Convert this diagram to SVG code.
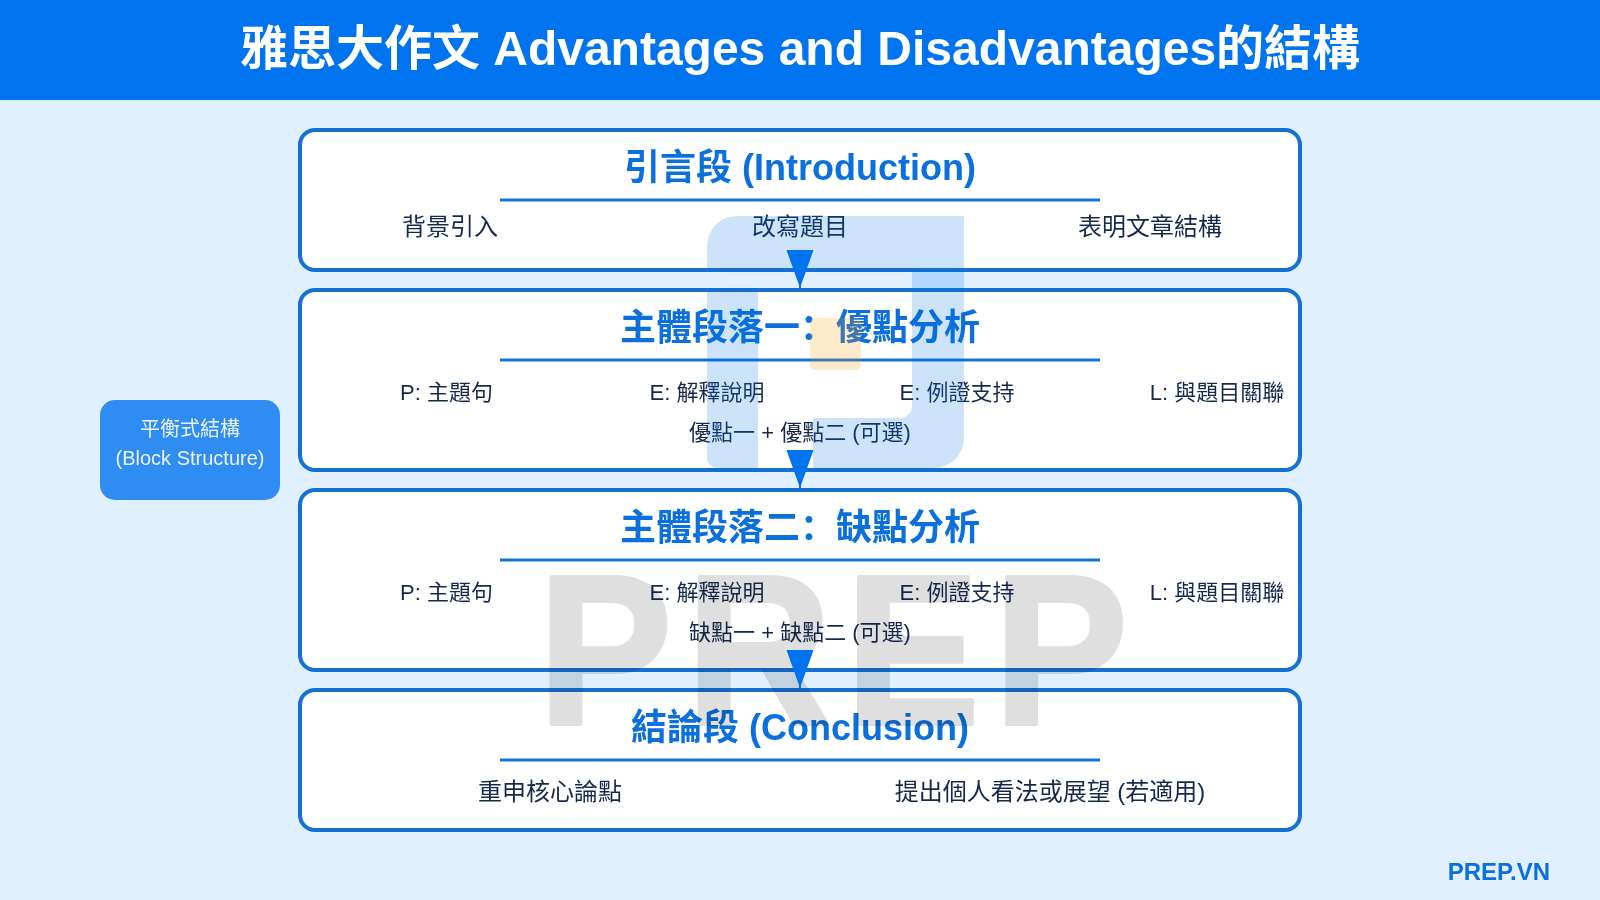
<svg xmlns="http://www.w3.org/2000/svg" width="1600" height="900" viewBox="0 0 1600 900">
<style>
text{font-family:"Liberation Sans","Noto Sans CJK SC",sans-serif}
.box{fill:#fff;stroke:#1570d6;stroke-width:4}
.title{font-size:36px;font-weight:700;fill:#0b70dc;text-anchor:middle}
.rule{stroke:#1570d6;stroke-width:3}
.l24{font-size:24px;fill:#15294d;text-anchor:middle}
.l22{font-size:22px;fill:#15294d;text-anchor:middle}
.logo{fill:#0073e6;opacity:.2}
</style>
<defs>
<marker id="arrow" markerUnits="userSpaceOnUse" markerWidth="28" markerHeight="38" viewBox="0 0 27 38" refX="27" refY="13.5" orient="auto" overflow="visible">
<path d="M0,0L38,13.5L0,27Z" fill="#0073ee" transform="translate(-11,0)"/>
</marker>
</defs>
<rect width="1600" height="900" fill="#e0f0ff"/>
<g id="header">
<rect width="1600" height="100" fill="#0073ee"/>
<text x="800" y="65" font-size="48" font-weight="700" fill="#fff" text-anchor="middle">雅思大作文 Advantages and Disadvantages的結構</text>
</g>
<g id="node-intro">
<rect class="box" x="300" y="130" width="1000" height="140" rx="15"/>
<text class="title" x="800" y="180">引言段 (Introduction)</text>
<line class="rule" x1="500" y1="200" x2="1100" y2="200"/>
<text class="l24" x="450" y="235">背景引入</text>
<text class="l24" x="800" y="235">改寫題目</text>
<text class="l24" x="1150" y="235">表明文章結構</text>
</g>
<g id="node-body1">
<rect class="box" x="300" y="290" width="1000" height="180" rx="15"/>
<text class="title" x="800" y="340">主體段落一：優點分析</text>
<line class="rule" x1="500" y1="360" x2="1100" y2="360"/>
<text class="l22" x="446.500" y="400">P: 主題句</text>
<text class="l22" x="707" y="400">E: 解釋說明</text>
<text class="l22" x="957" y="400">E: 例證支持</text>
<text class="l22" x="1217" y="400">L: 與題目關聯</text>
<text class="l22" x="800" y="440">優點一 + 優點二 (可選)</text>
</g>
<g id="node-body2">
<rect class="box" x="300" y="490" width="1000" height="180" rx="15"/>
<text class="title" x="800" y="540">主體段落二：缺點分析</text>
<line class="rule" x1="500" y1="560" x2="1100" y2="560"/>
<text class="l22" x="446.500" y="600">P: 主題句</text>
<text class="l22" x="707" y="600">E: 解釋說明</text>
<text class="l22" x="957" y="600">E: 例證支持</text>
<text class="l22" x="1217" y="600">L: 與題目關聯</text>
<text class="l22" x="800" y="640">缺點一 + 缺點二 (可選)</text>
</g>
<g id="node-conclusion">
<rect class="box" x="300" y="690" width="1000" height="140" rx="15"/>
<text class="title" x="800" y="740">結論段 (Conclusion)</text>
<line class="rule" x1="500" y1="760" x2="1100" y2="760"/>
<text class="l24" x="550" y="800">重申核心論點</text>
<text class="l24" x="1050" y="800">提出個人看法或展望 (若適用)</text>
</g>
<g id="node-side">
<rect x="100" y="400" width="180" height="100" rx="15" fill="#2f8cf0"/>
<text x="190" y="436" font-size="20" fill="#fff" fill-opacity=".9" text-anchor="middle">平衡式結構</text>
<text x="190" y="465" font-size="20" fill="#fff" fill-opacity=".9" text-anchor="middle">(Block Structure)</text>
</g>
<g id="watermark">
<path class="logo" d="M707,268V246a30,30 0 0 1 30,-30H964V268Z"/>
<path class="logo" d="M707,292H758V468H717a10,10 0 0 1 -10,-10Z"/>
<path class="logo" d="M912,270H964V438a30,30 0 0 1 -30,30H813V418H900a12,12 0 0 0 12,-12Z"/>
<rect x="810" y="318" width="51" height="52" rx="5" fill="#ff9800" opacity=".2"/>
<g opacity=".25" style="mix-blend-mode:multiply"><text transform="translate(538,724) scale(.94,1)" font-size="214" font-weight="700" letter-spacing="15" fill="#808080" stroke="#808080" stroke-width="4" stroke-linejoin="round">PREP</text></g>
</g>
<g id="connectors" fill="none" stroke="#0073ee" stroke-width="2">
<line x1="800" y1="270" x2="800" y2="288" marker-end="url(#arrow)"/>
<line x1="800" y1="470" x2="800" y2="488" marker-end="url(#arrow)"/>
<line x1="800" y1="670" x2="800" y2="688" marker-end="url(#arrow)"/>
</g>
<text id="brand" x="1550" y="880" font-size="24" font-weight="700" fill="#0b70dc" text-anchor="end">PREP.VN</text>
</svg>
